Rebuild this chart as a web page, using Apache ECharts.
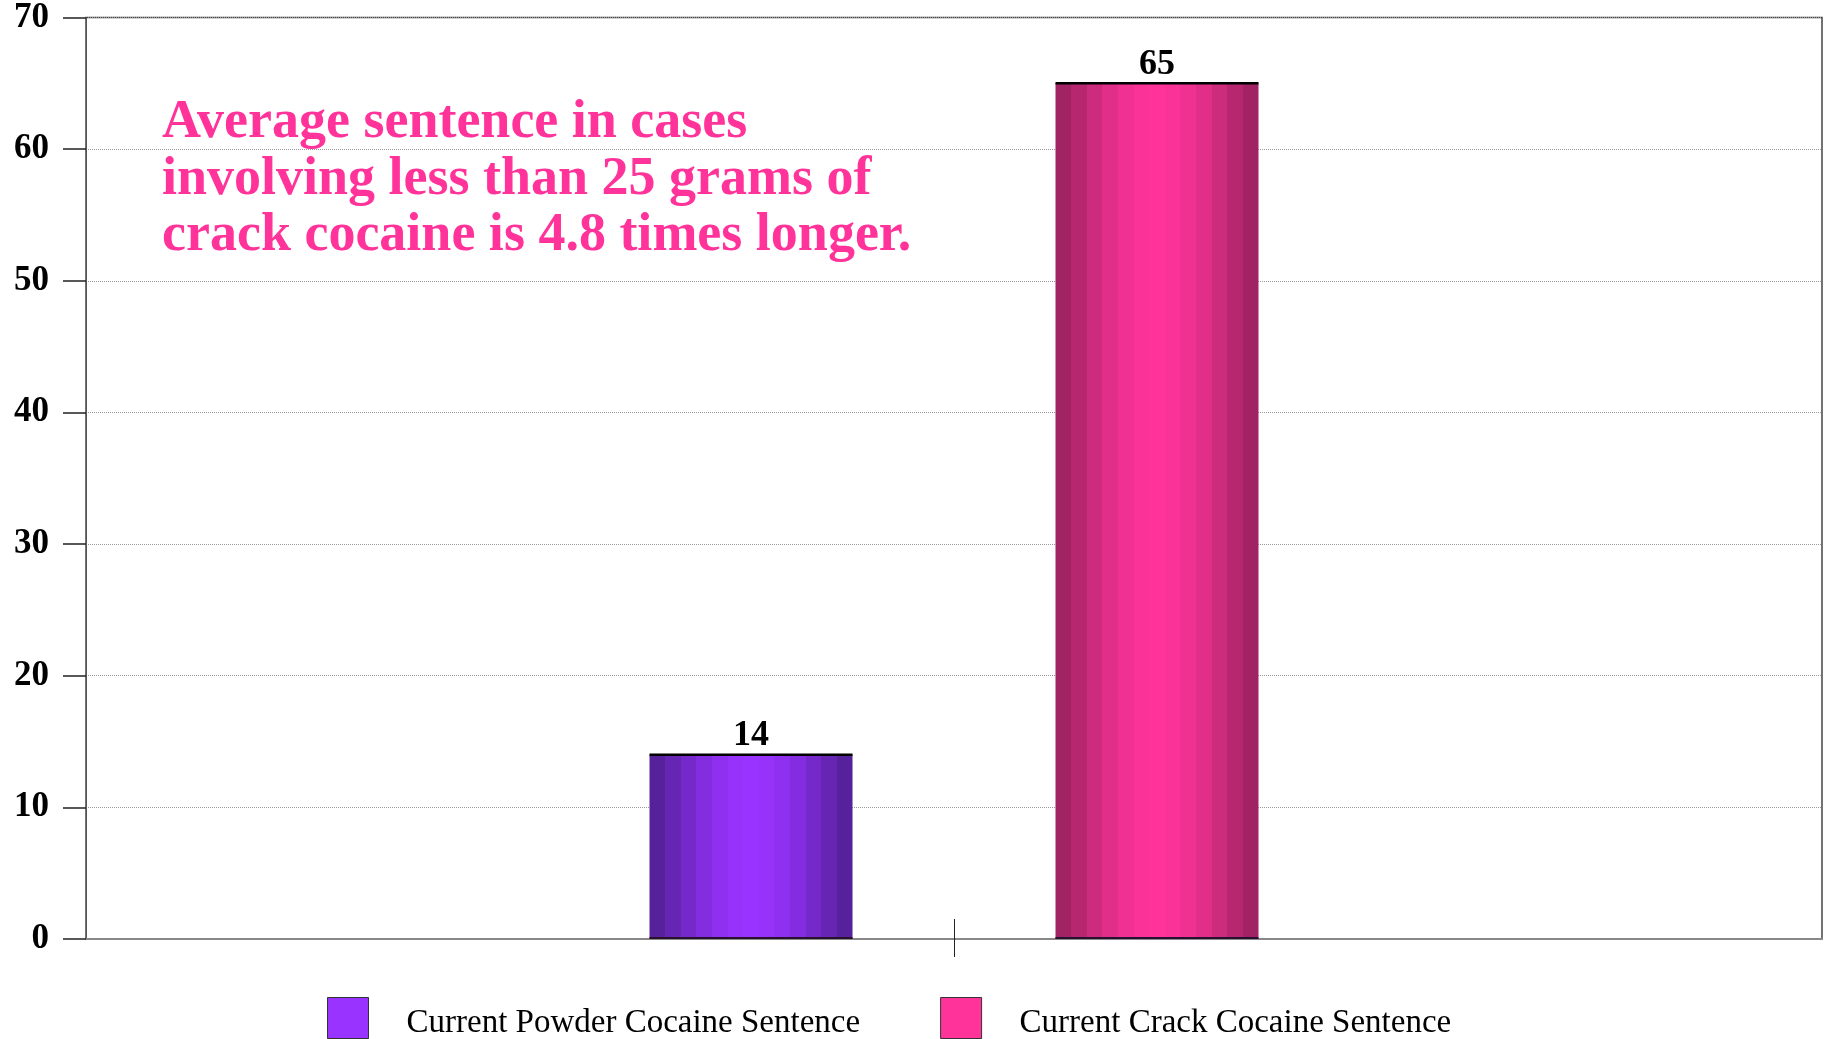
<!DOCTYPE html>
<html>
<head>
<meta charset="utf-8">
<script src="https://cdn.jsdelivr.net/npm/echarts@6/dist/echarts.min.js"></script>
<style>
html,body{margin:0;padding:0;background:#fff;}
#chart{width:1824px;height:1039px;}
</style>
</head>
<body>
<div id="chart"></div>
<script>
// ---- data ----
const categories = [''];
const seriesNames = ['Current Powder Cocaine Sentence', 'Current Crack Cocaine Sentence'];
const powderValues = [14];
const crackValues = [65];
const yTicks = [0, 10, 20, 30, 40, 50, 60, 70];
const annotation = ['Average sentence in cases', 'involving less than 25 grams of', 'crack cocaine is 4.8 times longer.'];

// ---- styles ----
const SERIF = '"Liberation Serif", "Times New Roman", serif';
const BAR_RATIO = 203 / 1736;

function hex(c){return [parseInt(c.slice(1,3),16),parseInt(c.slice(3,5),16),parseInt(c.slice(5,7),16)];}
function mix(a,b,t){const A=hex(a),B=hex(b);return 'rgb('+A.map((v,i)=>Math.round(v+(B[i]-v)*t)).join(',')+')';}
function banded(dark, light, n){
  const stops=[];
  for(let i=0;i<n;i++){
    const c=(i+0.5)/n;
    const t=Math.pow(Math.sin(Math.PI*c),1.2);
    const col=mix(dark,light,t);
    stops.push({offset:i/n,color:col});
    stops.push({offset:(i+1)/n,color:col});
  }
  return new echarts.graphic.LinearGradient(0,0,1,0,stops);
}
const purpleFill = banded('#521f94', '#9933ff', 13);
const pinkFill = banded('#9a225e', '#ff3399', 13);

function makeRender(side, fill){
  return function(params, api){
    const base = api.coord([api.value(0), 0]);
    const top = api.coord([api.value(0), api.value(1)]);
    const band = api.size([1, 0])[0];
    const w = band * BAR_RATIO;
    const x0 = side < 0 ? base[0] - 1.5 * w : base[0] + 0.5 * w;
    return {
      type: 'group',
      children: [
        {type:'rect', shape:{x:x0, y:top[1], width:w, height:base[1]-top[1]}, style:{fill:fill}},
        {type:'line', shape:{x1:x0, y1:top[1], x2:x0+w, y2:top[1]}, style:{stroke:'#000', lineWidth:2.5}},
        {type:'line', shape:{x1:x0, y1:base[1]-1, x2:x0+w, y2:base[1]-1}, style:{stroke:'#2a1030', lineWidth:2}},
        {type:'text', x:x0 + w/2, y:top[1] - 1,
          style:{text:String(api.value(1)), fill:'#000', font:'bold 36px ' + SERIF, align:'center', verticalAlign:'bottom'}}
      ]
    };
  };
}

const chart = echarts.init(document.getElementById('chart'), null, {renderer:'canvas'});
chart.setOption({
  animation:false,
  backgroundColor:'#fff',
  grid:[
    {left:86, right:2, top:17, bottom:100, show:true, borderColor:'#444', borderWidth:1.5, backgroundColor:'transparent'}
  ],
  xAxis:[
    {type:'category', data:categories, axisLine:{show:true, lineStyle:{color:'#888', width:2}}, axisTick:{show:false}, axisLabel:{show:false}, splitLine:{show:false}},
    {type:'category', data:categories, position:'bottom', offset:-20, axisLine:{show:false},
      axisTick:{show:true, alignWithLabel:true, length:38, lineStyle:{color:'#222', width:1}}, axisLabel:{show:false}}
  ],
  yAxis:[
    {type:'value', min:yTicks[0], max:yTicks[yTicks.length-1], interval:10,
      axisLine:{show:true, lineStyle:{color:'#555', width:1}},
      axisTick:{show:true, length:23, lineStyle:{color:'#222', width:1.5}},
      axisLabel:{margin:37, color:'#000', fontFamily:SERIF, fontWeight:'bold', fontSize:35, padding:[5,0,0,0]},
      splitLine:{show:true, lineStyle:{color:'#999', type:'dotted', width:1}}}
  ],
  legend:{
    left:322, top:992, itemWidth:41, itemHeight:41, itemGap:80, icon:'rect',
    formatter:'{t|{name}}',
    textStyle:{fontFamily:SERIF, fontSize:33, color:'#000', padding:[0,0,0,33],
      rich:{t:{fontFamily:SERIF, fontSize:33, color:'#000', padding:[10,0,0,0]}}},
    data:[
      {name:seriesNames[0], itemStyle:{color:'#9933ff', borderColor:'#333', borderWidth:1}},
      {name:seriesNames[1], itemStyle:{color:'#ff3399', borderColor:'#333', borderWidth:1}}
    ]
  },
  series:[
    {type:'custom', name:seriesNames[0], xAxisIndex:1, itemStyle:{color:'#9933ff'},
      renderItem:makeRender(-1, purpleFill), data:powderValues.map((v,i)=>[i,v]), encode:{x:0,y:1}},
    {type:'custom', name:seriesNames[1], xAxisIndex:1, itemStyle:{color:'#ff3399'},
      renderItem:makeRender(1, pinkFill), data:crackValues.map((v,i)=>[i,v]), encode:{x:0,y:1}}
  ],
  graphic:[
    {type:'text', left:162, top:95, z:10,
      style:{text:annotation.join('\n'), fill:'#ff3399', font:'bold 54px ' + SERIF, lineHeight:56.5}}
  ]
});
</script>
</body>
</html>
